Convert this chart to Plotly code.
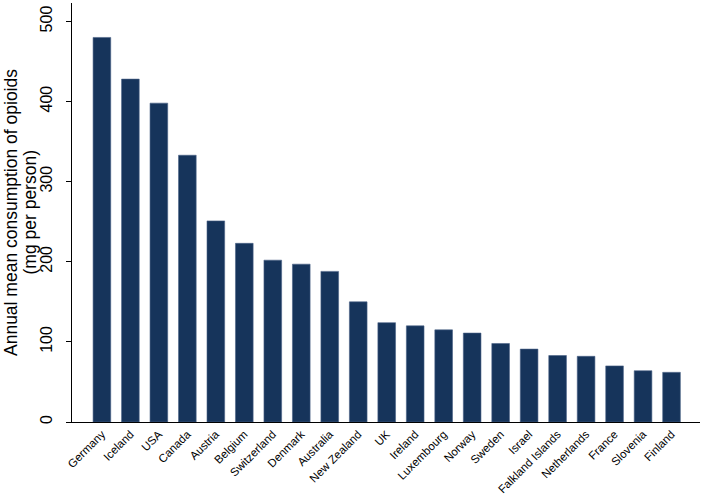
import plotly.graph_objects as go

countries = ["Germany", "Iceland", "USA", "Canada", "Austria", "Belgium", "Switzerland",
             "Denmark", "Australia", "New Zealand", "UK", "Ireland", "Luxembourg", "Norway",
             "Sweden", "Israel", "Falkland Islands", "Netherlands", "France", "Slovenia", "Finland"]
consumption = [480, 428, 398, 333, 251, 223, 202, 197, 188, 150, 124, 120, 115, 111,
               98, 91, 83, 82, 70, 64, 62]
y_ticks = [0, 100, 200, 300, 400, 500]
y_title_lines = ["Annual mean consumption of opioids", "(mg per person)"]

fig = go.Figure(go.Bar(
    x=list(range(len(countries))), y=consumption,
    marker=dict(color="#16345b", line=dict(color="#4a6286", width=0.6)),
    width=0.62,
))

fig.update_layout(
    width=705, height=494,
    margin=dict(l=72, r=5, t=3, b=72),
    plot_bgcolor="white", paper_bgcolor="white",
    font=dict(family="Liberation Sans, Arial, sans-serif", color="black"),
    showlegend=False,
)
fig.update_xaxes(
    range=[-1.05, 21.0], automargin=False,
    tickmode="array", tickvals=list(range(len(countries))), ticktext=countries,
    tickangle=-45, tickfont=dict(size=11.5),
    showline=True, linecolor="black", linewidth=1.2,
    ticks="", showgrid=False, zeroline=False,
)
fig.update_yaxes(
    range=[0, 523], automargin=False,
    tickmode="array", tickvals=y_ticks, ticktext=[str(v) for v in y_ticks],
    tickangle=-90, tickfont=dict(size=16), ticklabelstandoff=8,
    ticks="outside", ticklen=5, tickcolor="black",
    showline=True, linecolor="black", linewidth=1.2,
    showgrid=False, zeroline=False,
)
for line, shift in zip(y_title_lines, [-61.5, -43]):
    fig.add_annotation(
        text=line, xref="paper", yref="paper", x=0, y=0.5,
        xanchor="center", yanchor="middle", xshift=shift,
        textangle=-90, showarrow=False, font=dict(size=17.5),
    )

fig.write_html(
    "out.html",
    config={"displayModeBar": False},
    post_script="document.body.style.margin='0';document.body.style.overflow='hidden';",
)
